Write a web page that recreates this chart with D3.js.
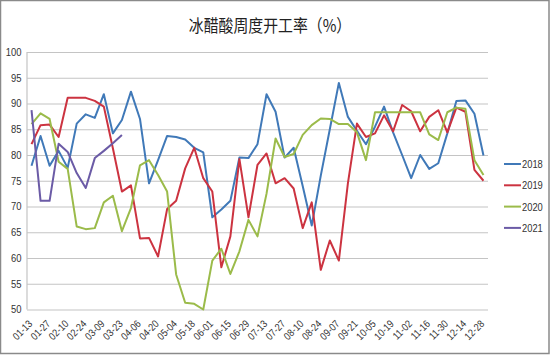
<!DOCTYPE html>
<html>
<head>
<meta charset="utf-8">
<script src="https://cdn.jsdelivr.net/npm/d3@7"></script>
<style>
  html, body { margin: 0; padding: 0; background: #fff; }
  svg { display: block; }
  .axis text { font-family: "Liberation Sans", Arial, sans-serif; font-size: 10.5px; fill: #333; }
</style>
</head>
<body>
<svg id="chart" width="550" height="355"></svg>
<script>
const title = "冰醋酸周度开工率（%）";
const categories = ["01-13","01-20","01-27","02-03","02-10","02-17","02-24","03-02","03-09","03-16",
  "03-23","03-30","04-06","04-13","04-20","04-27","05-04","05-11","05-18","05-25",
  "06-01","06-08","06-15","06-22","06-29","07-06","07-13","07-20","07-27","08-03",
  "08-10","08-17","08-24","08-31","09-07","09-14","09-21","09-28","10-05","10-12",
  "10-19","10-26","11-02","11-09","11-16","11-23","11-30","12-07","12-14","12-21","12-28"];
const xTickLabels = ["01-13","01-27","02-10","02-24","03-09","03-23","04-06","04-20","05-04","05-18",
  "06-01","06-15","06-29","07-13","07-27","08-10","08-24","09-07","09-21","10-05",
  "10-19","11-02","11-16","11-30","12-14","12-28"];
const yTicks = [50,55,60,65,70,75,80,85,90,95,100];
const seriesNames = ["2018","2019","2020","2021"];
const values2018 = [77.9,83.7,77.9,80.8,77.5,86.1,87.9,87.2,91.8,84.2,
  86.8,92.3,87.0,74.5,79.0,83.7,83.5,83.0,81.4,80.5,
  67.9,69.4,71.1,79.5,79.4,82.1,91.8,88.4,79.5,81.4,
  74.0,66.3,76.0,85.0,94.0,87.4,84.7,82.1,85.5,89.4,
  84.4,80.0,75.5,80.0,77.3,78.4,84.2,90.5,90.6,88.0,79.9];
const values2019 = [82.1,85.8,85.9,83.5,91.1,91.1,91.1,90.5,89.4,81.3,
  72.9,74.1,63.8,63.9,60.3,69.5,71.1,77.4,81.4,75.5,
  72.9,58.2,64.2,79.2,67.9,78.1,80.3,74.5,75.5,73.5,
  65.8,70.8,57.7,63.4,59.5,74.5,86.1,83.5,84.2,87.7,
  84.6,89.7,88.5,84.6,87.4,88.7,84.4,89.2,88.4,77.1,75.0];
const values2020 = [86.0,88.1,87.0,78.7,77.3,66.1,65.6,65.8,70.8,72.1,
  65.2,69.7,78.0,79.0,76.1,72.9,56.8,51.3,51.1,50.0,
  59.5,61.8,56.9,61.3,67.4,64.2,72.5,83.2,79.6,80.2,
  83.9,85.8,87.1,87.0,86.0,86.0,84.4,79.0,88.3,88.3,
  88.3,88.3,88.3,88.3,84.0,82.9,88.3,89.2,89.0,79.0,76.1];
const values2021 = [88.7,71.1,71.1,82.2,80.6,76.5,73.6,79.4,80.8,82.3,83.9];
const seriesColors = ["#4079b8","#cc3340","#9bbb4a","#6b5ba6"];

const allSeries = [values2018, values2019, values2020, values2021].map((vals, k) => ({
  name: seriesNames[k], color: seriesColors[k],
  points: vals.map((v, i) => ({cat: categories[i], v}))
}));

const svg = d3.select("#chart");
const W = 550, H = 355;
const plot = {left: 27, right: 488, top: 52, bottom: 309.5};

svg.append("rect").attr("x", 0.5).attr("y", 0.5).attr("width", W - 1.5).attr("height", H - 2)
  .attr("fill", "#fff").attr("stroke", "#8a8a8a").attr("stroke-width", 1.5);

const band = (plot.right - plot.left) / categories.length;
const x = d3.scalePoint().domain(categories)
  .range([plot.left + band / 2, plot.right - band / 2]);
const y = d3.scaleLinear().domain([50, 100]).range([plot.bottom, plot.top]);

svg.append("text").attr("transform", "translate(270,32) scale(0.85,1)").attr("text-anchor", "middle")
  .attr("font-family", "'Noto Sans CJK SC', sans-serif").attr("font-size", 17.5)
  .attr("fill", "#222").text(title);

// gridlines
const grid = svg.append("g").attr("transform", `translate(${plot.left},0)`)
  .call(d3.axisLeft(y).tickValues(yTicks).tickSize(-(plot.right - plot.left)).tickFormat(""));
grid.select(".domain").remove();
grid.selectAll(".tick line").attr("stroke", "#c4c4c4").attr("stroke-width", 1.2);

// y axis
const yAxis = svg.append("g").attr("class", "axis").attr("transform", `translate(${plot.left},0)`)
  .call(d3.axisLeft(y).tickValues(yTicks).tickSize(0).tickPadding(6));
yAxis.select(".domain").remove();
yAxis.selectAll("text").attr("transform", "scale(0.9,1)");
svg.append("line").attr("x1", plot.left).attr("x2", plot.left).attr("y1", plot.top).attr("y2", plot.bottom)
  .attr("stroke", "#c4c4c4").attr("stroke-width", 1.2);

// x axis
const xAxis = svg.append("g").attr("class", "axis").attr("transform", `translate(0,${plot.bottom})`)
  .call(d3.axisBottom(x).tickValues(xTickLabels).tickSize(0));
xAxis.select(".domain").remove();
xAxis.selectAll("text")
  .attr("text-anchor", "end")
  .attr("dy", null).attr("y", null)
  .attr("transform", "translate(1,15) rotate(-45) scale(0.85,1)");

// lines
const line = d3.line().x(d => x(d.cat)).y(d => y(d.v));
svg.append("g").selectAll("path").data(allSeries).join("path")
  .attr("d", d => line(d.points))
  .attr("fill", "none").attr("stroke", d => d.color).attr("stroke-width", 2)
  .attr("stroke-linejoin", "round");

// legend
const legend = svg.append("g").selectAll("g").data(allSeries).join("g")
  .attr("transform", (d, i) => `translate(504,${164 + i * 21.3})`);
legend.append("line").attr("x1", 0).attr("x2", 17).attr("stroke", d => d.color).attr("stroke-width", 2);
legend.append("text").attr("transform", "translate(18,4) scale(0.85,1)")
  .attr("font-family", "'Liberation Sans', sans-serif").attr("font-size", 11)
  .attr("fill", "#333").text(d => d.name);
</script>
</body>
</html>
